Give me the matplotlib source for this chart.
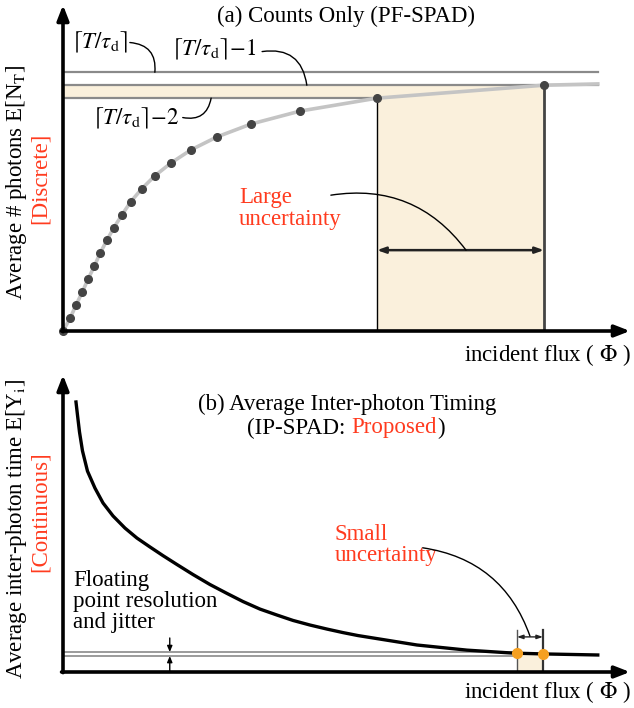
import matplotlib
matplotlib.use("Agg")
import matplotlib.pyplot as plt

plt.rcParams['font.family'] = ['Liberation Serif', 'DejaVu Serif']
plt.rcParams['mathtext.fontset'] = 'stix'

# panel (a): discrete counts vs flux
flux_a = [0, 0.15, 0.27, 0.40, 0.52, 0.65, 0.77, 0.91, 1.06, 1.23, 1.41, 1.64,
          1.91, 2.25, 2.66, 3.20, 3.91, 4.93, 6.53, 10.0]
counts_a = list(range(20))
curve_end = (11.12, 19.1)
level_max = 20            # ceil(T/tau_d)
flux_lo, flux_hi = 6.53, 10.0

# panel (b): average inter-photon time vs flux
flux_b = [0.270, 0.301, 0.343, 0.405, 0.509, 0.665, 0.832, 1.040, 1.289, 1.538,
          1.809, 2.079, 2.370, 2.703, 3.056, 3.410, 3.742, 4.096, 4.449, 4.782,
          5.135, 5.489, 5.821, 6.133, 6.694, 7.360, 8.399, 9.356, 9.979, 11.12]
time_b = [10.0, 9.52, 8.89, 8.19, 7.44, 6.81, 6.26, 5.78, 5.33, 4.96,
          4.63, 4.31, 3.98, 3.61, 3.24, 2.91, 2.61, 2.33, 2.11, 1.91,
          1.74, 1.59, 1.46, 1.35, 1.19, 1.00, 0.81, 0.70, 0.67, 0.63]
res_lo, res_hi = 0.59, 0.74
dots_b_flux = [9.44, 9.98]
dots_b_time = [0.70, 0.67]

RED = '#ff3b1f'
FILL = '#faf0dc'
GRAY = '#8a8a8a'
FS = 16.5

fig = plt.figure(figsize=(6.34, 7.08), dpi=100)
ax1 = fig.add_axes([63/634, 377/708, 567/634, 326/708])
ax2 = fig.add_axes([63/634, 36/708, 567/634, 297/708])
ax1.set_xlim(0, 11.79)
ax1.set_ylim(0, 25.2)
ax2.set_xlim(0, 11.79)
ax2.set_ylim(0, 11.0)
for ax in (ax1, ax2):
    ax.axis('off')
    x0, x1 = ax.get_xlim()
    y0, y1 = ax.get_ylim()
    ap = dict(arrowstyle='-|>,head_length=0.9,head_width=0.35', lw=2.6,
              color='k', shrinkA=0, shrinkB=0)
    ax.annotate('', xy=(x1, y0), xytext=(x0 - 0.03, y0), arrowprops=ap,
                annotation_clip=False, zorder=6)
    ax.annotate('', xy=(x0, y1), xytext=(x0, y0 - 0.002 * (y1 - y0)), arrowprops=ap,
                annotation_clip=False, zorder=6)

# ---- panel a
ax1.fill_between([0, flux_hi], level_max - 2, level_max - 1, color=FILL, lw=0, zorder=1)
ax1.fill_between([flux_lo, flux_hi], 0, level_max - 1, color=FILL, lw=0, zorder=1)
ax1.plot([0, curve_end[0]], [level_max, level_max], color=GRAY, lw=1.6, zorder=2)
ax1.plot([0, curve_end[0]], [level_max - 1, level_max - 1], color=GRAY, lw=1.6, zorder=2)
ax1.plot([0, flux_lo], [level_max - 2, level_max - 2], color=GRAY, lw=1.6, zorder=2)
ax1.plot(flux_a + [curve_end[0]], counts_a + [curve_end[1]], color='#c4c4c4', lw=2.6, zorder=3)
ax1.plot(flux_a, counts_a, 'o', color='#444444', ms=5.5, zorder=4, clip_on=False)
ax1.plot([flux_lo, flux_lo], [0, level_max - 2], color='k', lw=1.0, zorder=3)
ax1.plot([flux_hi, flux_hi], [0, level_max - 1], color='#444444', lw=2.0, zorder=3)
ax1.annotate('', xy=(flux_hi, 6.25), xytext=(flux_lo, 6.25),
             arrowprops=dict(arrowstyle='<|-|>,head_length=0.5,head_width=0.18',
                             lw=1.8, color='#222222', shrinkA=0, shrinkB=0))

thin = dict(arrowstyle='-', lw=1.0, color='k', shrinkA=0, shrinkB=0)
lab = r'$\lceil T/\tau_{\mathrm{d}}\rceil$'
ax1.text(0.75, 22.3, lab, fontsize=FS, ha='center', va='center')
ax1.annotate('', xy=(1.91, level_max), xytext=(1.39, 22.3),
             arrowprops=dict(thin, connectionstyle='arc3,rad=-0.5'))
ax1.text(3.14, 21.8, lab + r'$-1$', fontsize=FS, ha='center', va='center')
ax1.annotate('', xy=(5.07, level_max - 1), xytext=(4.14, 21.6),
             arrowprops=dict(thin, connectionstyle='arc3,rad=-0.5'))
ax1.text(1.52, 16.4, lab + r'$-2$', fontsize=FS, ha='center', va='center')
ax1.annotate('', xy=(3.08, level_max - 2), xytext=(2.49, 16.5),
             arrowprops=dict(thin, connectionstyle='arc3,rad=0.5'))
ax1.text(3.66, 9.5, 'Large\nuncertainty', color=RED, fontsize=FS, ha='left',
         va='center', linespacing=1.05)
ax1.annotate('', xy=(8.38, 6.25), xytext=(5.57, 10.5),
             arrowprops=dict(thin, connectionstyle='arc3,rad=-0.3'))

fig.text(346/634, 1 - 16/708, '(a) Counts Only (PF-SPAD)', fontsize=FS,
         ha='center', va='center')
fig.text(631/634, 1 - 355/708, r'incident flux ( $\Phi$ )', fontsize=FS,
         ha='right', va='center')
fig.text(17/634, 1 - 182/708, r'Average # photons E[N$_\mathrm{T}$]', fontsize=FS,
         rotation=90, ha='center', va='center')
fig.text(40/634, 1 - 178/708, '[Discrete]', color=RED, fontsize=FS,
         rotation=90, ha='center', va='center')

# ---- panel b
ax2.plot([0, dots_b_flux[0]], [res_hi, res_hi], color=GRAY, lw=1.2, zorder=2)
ax2.plot([0, dots_b_flux[0]], [res_lo, res_lo], color=GRAY, lw=1.2, zorder=2)
ax2.fill_between(dots_b_flux, 0, dots_b_time[1], color=FILL, lw=0, zorder=1)
ax2.plot(flux_b, time_b, color='k', lw=2.4, zorder=3, solid_joinstyle='round')
ax2.plot([dots_b_flux[0]] * 2, [0, 1.55], color='#555555', lw=1.0, zorder=2)
ax2.plot([dots_b_flux[1]] * 2, [0, 1.55], color='#333333', lw=1.6, zorder=2)
ax2.plot(dots_b_flux, dots_b_time, 'o', color='#f5a021', ms=7, zorder=5)
ax2.annotate('', xy=(dots_b_flux[1], 1.3), xytext=(dots_b_flux[0], 1.3),
             arrowprops=dict(arrowstyle='<|-|>,head_length=0.35,head_width=0.12',
                             lw=1.0, color='#222222', shrinkA=0, shrinkB=0))
ax2.text(5.65, 4.7, 'Small\nuncertainty', color=RED, fontsize=FS, ha='left',
         va='center', linespacing=1.05)
ax2.annotate('', xy=(9.71, 1.33), xytext=(7.48, 4.6),
             arrowprops=dict(thin, connectionstyle='arc3,rad=-0.3'))
ax2.text(0.21, 2.6, 'Floating\npoint resolution\nand jitter', fontsize=FS,
         ha='left', va='center', linespacing=1.0)
ax2.annotate('', xy=(2.22, res_hi), xytext=(2.22, 1.26),
             arrowprops=dict(arrowstyle='-|>,head_length=0.35,head_width=0.15',
                             lw=1.0, color='k', shrinkA=0, shrinkB=0))
ax2.annotate('', xy=(2.22, res_lo), xytext=(2.22, 0.0),
             arrowprops=dict(arrowstyle='-|>,head_length=0.35,head_width=0.15',
                             lw=1.0, color='k', shrinkA=0, shrinkB=0))

fig.text(347/634, 1 - 404/708, '(b) Average Inter-photon Timing', fontsize=FS,
         ha='center', va='center')
# second title line with a red word, centred as a whole
parts = [('(IP-SPAD: ', 'k'), ('Proposed', RED), (')', 'k')]
fig.canvas.draw()
r = fig.canvas.get_renderer()
widths = []
for s, c in parts:
    t = fig.text(0, 0, s, fontsize=FS)
    widths.append(t.get_window_extent(r).width)
    t.remove()
x = 346 - sum(widths) / 2
for (s, c), w in zip(parts, widths):
    fig.text(x / 634, 1 - 428/708, s, color=c, fontsize=FS, ha='left', va='center')
    x += w
fig.text(631/634, 1 - 692/708, r'incident flux ( $\Phi$ )', fontsize=FS,
         ha='right', va='center')
fig.text(17/634, 1 - 529/708, r'Average inter-photon time E[Y$_\mathrm{i}$]',
         fontsize=FS, rotation=90, ha='center', va='center')
fig.text(40/634, 1 - 512/708, '[Continuous]', color=RED, fontsize=FS,
         rotation=90, ha='center', va='center')

fig.savefig('out.png', dpi=100)
